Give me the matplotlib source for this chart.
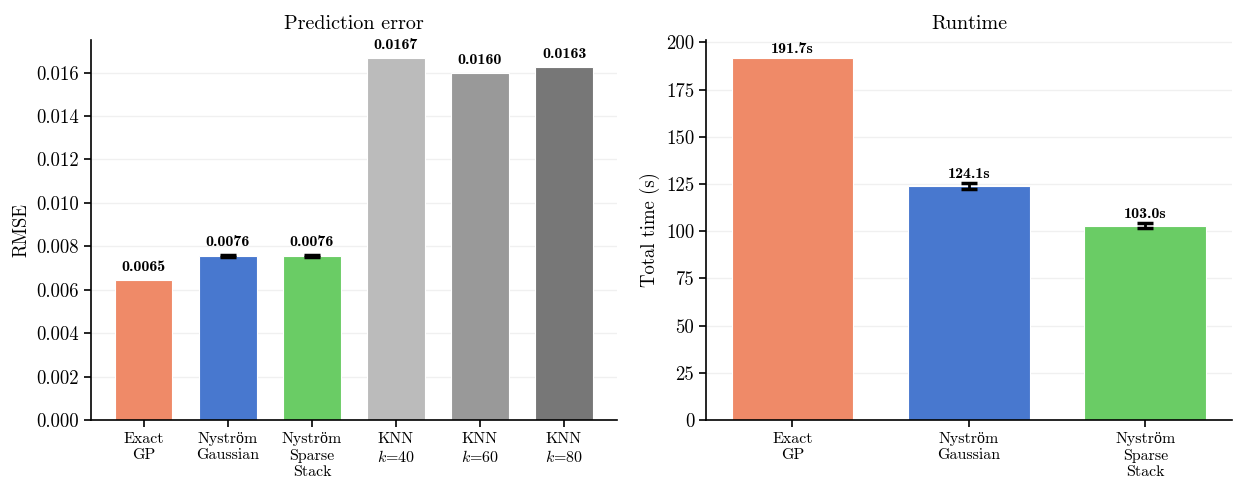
import matplotlib
matplotlib.use("Agg")
import matplotlib.pyplot as plt
import numpy as np

# cmr10 has no "ö", Liberation Serif fills that one glyph in
plt.rcParams['font.family'] = ['cmr10', 'Liberation Serif']
plt.rcParams['mathtext.fontset'] = 'cm'
plt.rcParams['axes.formatter.use_mathtext'] = True
plt.rcParams['axes.unicode_minus'] = False

# --- data ---
rmse_labels = ["Exact\nGP", "Nyström\nGaussian", "Nyström\nSparse\nStack",
               "KNN\n$k$=40", "KNN\n$k$=60", "KNN\n$k$=80"]
rmse_vals = [0.00646, 0.00756, 0.00756, 0.01668, 0.01598, 0.01626]
rmse_err = [0.0, 0.00004, 0.00004, 0.0, 0.0, 0.0]
rmse_colors = ["#EF8A68", "#4878CF", "#6ACC65", "#BBBBBB", "#999999", "#777777"]

time_labels = ["Exact\nGP", "Nyström\nGaussian", "Nyström\nSparse\nStack"]
time_vals = [191.7, 124.1, 103.0]
time_err = [0.0, 1.6, 1.3]
time_colors = ["#EF8A68", "#4878CF", "#6ACC65"]

fig = plt.figure(figsize=(12.33, 4.79), dpi=100)
ax1 = fig.add_axes([0.0738, 0.1232, 0.4266, 0.7933])
ax2 = fig.add_axes([0.5726, 0.1232, 0.4264, 0.7933])


def style(ax):
    ax.spines['top'].set_visible(False)
    ax.spines['right'].set_visible(False)
    ax.spines['left'].set_linewidth(1.2)
    ax.spines['bottom'].set_linewidth(1.2)
    ax.yaxis.grid(True, color="#F0F0F0", linewidth=1.0)
    ax.set_axisbelow(True)
    ax.tick_params(axis='y', labelsize=13.5, length=5, width=1.2)
    ax.tick_params(axis='x', labelsize=11.5, length=5, width=1.2, pad=4)
    for lab in ax.get_xticklabels():
        lab.set_linespacing(1.2)


# --- left: prediction error ---
x1 = np.arange(len(rmse_vals))
ax1.bar(x1, rmse_vals, width=0.68, color=rmse_colors, edgecolor="white", linewidth=0.8)
for xi, v, e in zip(x1, rmse_vals, rmse_err):
    if e > 0:
        ax1.errorbar(xi, v, yerr=e, fmt='none', ecolor='black', elinewidth=2,
                     capsize=6, capthick=2.5)
    ax1.text(xi, v + e + 0.00028, f"{v:.4f}", ha='center', va='bottom',
             fontsize=11.5, family=['cmb10', 'DejaVu Serif'])
ax1.set_xticks(x1)
ax1.set_xticklabels(rmse_labels)
ax1.set_xlim(-0.63, 5.63)
ax1.set_ylim(0, 0.0175)
ax1.set_yticks(np.arange(0, 0.0161, 0.002))
ax1.yaxis.set_major_formatter(matplotlib.ticker.FuncFormatter(lambda v, p: f"{v:.3f}"))
ax1.set_ylabel("RMSE", fontsize=13.5)
ax1.set_title("Prediction error", fontsize=14.5, pad=8)
style(ax1)

# --- right: runtime ---
x2 = np.arange(len(time_vals))
ax2.bar(x2, time_vals, width=0.69, color=time_colors, edgecolor="white", linewidth=0.8)
for xi, v, e in zip(x2, time_vals, time_err):
    if e > 0:
        ax2.errorbar(xi, v, yerr=e, fmt='none', ecolor='black', elinewidth=2,
                     capsize=6, capthick=2.5)
    ax2.text(xi, v + e + 1.0, f"{v:.1f}s", ha='center', va='bottom',
             fontsize=11.5, family=['cmb10', 'DejaVu Serif'])
ax2.set_xticks(x2)
ax2.set_xticklabels(time_labels)
ax2.set_xlim(-0.49, 2.49)
ax2.set_ylim(0, 201.3)
ax2.set_yticks(np.arange(0, 201, 25))
ax2.yaxis.set_major_formatter(matplotlib.ticker.FuncFormatter(lambda v, p: f"{int(v)}"))
ax2.set_ylabel("Total time (s)", fontsize=13.5)
ax2.set_title("Runtime", fontsize=14.5, pad=8)
style(ax2)

fig.savefig("out.png", dpi=100)
